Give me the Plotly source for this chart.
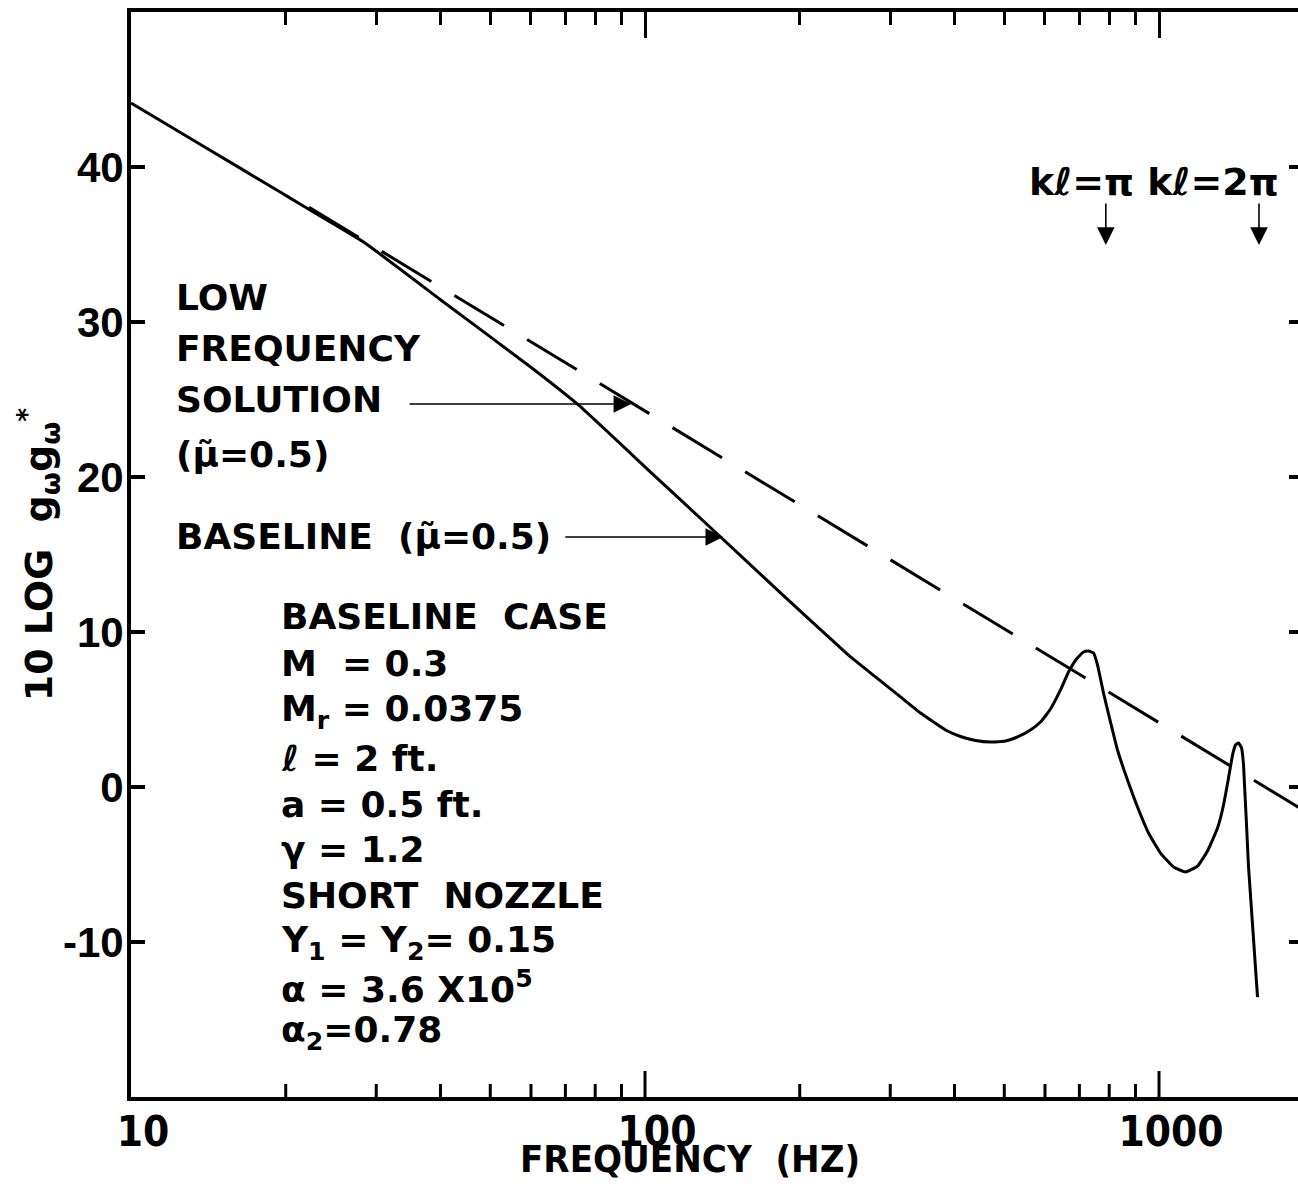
import math
import plotly.graph_objects as go

# Baseline spectrum (mu~ = 0.5): frequency in Hz vs 10 log g_w g_w*
baseline_hz = [10, 13.65, 19.54, 21.4, 28.34, 40.0, 59.9, 74.2, 102.5, 140.3, 183.5,
               240.1, 251.1, 280.8, 314.1, 343.6, 364.2, 384.3, 411.0, 439.6, 470.2,
               502.9, 530.6, 562.3, 588.1, 615.0, 643.2, 666.7, 691.0, 713.1, 729.3,
               745.8, 759.3, 779.9, 804.7, 830.3, 868.4, 908.2, 954.1, 1006.7,
               1067.1, 1126.1, 1188.3, 1242.7, 1299.7, 1335.1, 1365.3, 1390.0,
               1408.8, 1427.9, 1447.3, 1460.3, 1493.4, 1554.8]
baseline_db = [44.13, 41.45, 38.37, 37.58, 35.16, 31.44, 27.10, 24.65, 20.32, 16.13,
               12.52, 8.97, 8.39, 7.10, 5.81, 4.77, 4.19, 3.68, 3.26, 3.00, 2.90,
               2.97, 3.23, 3.68, 4.19, 5.03, 6.26, 7.42, 8.26, 8.71, 8.77, 8.65,
               7.87, 6.06, 4.19, 2.39, 0.45, -1.29, -2.97, -4.26, -5.16, -5.48,
               -5.10, -4.13, -2.65, -1.16, 0.58, 2.06, 2.71, 2.84, 2.52, 1.42,
               -5.16, -13.55]

# Low frequency solution (mu~ = 0.5)
lowfreq_hz = [22.2, 2000]
lowfreq_db = [37.4, -1.9]

x_tick_vals = [10, 100, 1000]
x_tick_text = ["10", "100", "1000"]
x_major_marks = [100, 1000]
x_minor_marks = [20, 30, 40, 50, 60, 70, 80, 90, 200, 300, 400, 500, 600, 700, 800, 900]
y_tick_vals = [-10, 0, 10, 20, 30, 40]
y_tick_text = ["-10", "0", "10", "20", "30", "40"]

X_RANGE = [1, 3.2704]      # log10 of the frequency limits
Y_RANGE = [-20, 50]
PLOT_H = 1186 - 12 - 89    # plot-area height in px
DB_PER_PX = (Y_RANGE[1] - Y_RANGE[0]) / PLOT_H

INK = "black"
TEXT_FONT = dict(family="DejaVu Sans", size=36, color=INK, weight="bold")
NARROW = "DejaVu Sans Condensed, Liberation Sans Narrow, Liberation Sans"

fig = go.Figure()
# The dashed line lives on the overlay axes (x2 on top, y2 on the right) so that
# those frame edges get their own inward tick marks.
fig.add_trace(go.Scatter(x=lowfreq_hz, y=lowfreq_db, mode="lines",
                         xaxis="x2", yaxis="y2",
                         line=dict(color=INK, width=3, dash="58px,27px"),
                         showlegend=False, hoverinfo="skip"))
fig.add_trace(go.Scatter(x=baseline_hz, y=baseline_db, mode="lines",
                         line=dict(color=INK, width=3, shape="spline", smoothing=0.4),
                         showlegend=False, hoverinfo="skip"))

annotations = []


def label(text, f, db, **kw):
    d = dict(text=text, x=math.log10(f), y=db, xref="x", yref="y",
             xanchor="left", yanchor="middle", showarrow=False, font=TEXT_FONT)
    d.update(kw)
    annotations.append(d)


def arrow(f_tail, db_tail, f_head, db_head):
    annotations.append(dict(text="", x=math.log10(f_head), y=db_head,
                            ax=math.log10(f_tail), ay=db_tail,
                            xref="x", yref="y", axref="x", ayref="y",
                            showarrow=True, arrowhead=2, arrowsize=2.2,
                            arrowwidth=1.6, arrowcolor=INK, standoff=0,
                            startstandoff=0))


# Curve identification
label("LOW", 12.1, 31.55)
label("FREQUENCY", 12.1, 28.32)
label("SOLUTION", 12.1, 24.97)
label("(μ̃=0.5)", 12.1, 21.42)
label("BASELINE  (μ̃=0.5)", 12.1, 16.13)
arrow(34.6, 24.71, 94.0, 24.71)
arrow(69.5, 16.13, 141.9, 16.13)

# Parameter block
params = [
    ("BASELINE  CASE", 10.97),
    ("M  = 0.3", 7.94),
    ("M<sub>r</sub> = 0.0375", 4.84),
    ("ℓ = 2 ft.", 1.87),
    ("a = 0.5 ft.", -1.10),
    ("γ = 1.2", -4.06),
    ("SHORT  NOZZLE", -7.03),
    ("Y<sub>1</sub> = Y<sub>2</sub>= 0.15", -10.0),
    ("α = 3.6 X10<sup>5</sup>", -12.9),
    ("α<sub>2</sub>=0.78", -15.87),
]
for txt, db in params:
    label(txt, 19.4, db)

# Resonance markers
label("kℓ=π kℓ=2π", 553, 39.03, font=dict(family="DejaVu Sans", size=38,
                                          color=INK, weight="bold"))
arrow(788, 37.74, 788, 34.97)
arrow(1565, 37.74, 1565, 34.97)

# Axis titles
annotations.append(dict(text="FREQUENCY  (HZ)", x=0.479, y=-0.057, xref="paper",
                        yref="paper", xanchor="center", yanchor="middle",
                        showarrow=False,
                        font=dict(family=NARROW, size=38, color=INK, weight="bold")))
annotations.append(dict(text="10 LOG  g<sub>ω</sub>g<sub>ω</sub><sup>*</sup>",
                        x=-0.079, y=0.50, xref="paper", yref="paper",
                        xanchor="center", yanchor="middle", textangle=-90,
                        showarrow=False, font=dict(family="DejaVu Sans", size=38,
                                                   color=INK, weight="bold")))

# Frequency tick marks on the bottom frame edge (inward pointing)
shapes = []
for vals, length_px in ((x_major_marks, 26), (x_minor_marks, 13)):
    for v in vals:
        px = (math.log10(v) - X_RANGE[0]) / (X_RANGE[1] - X_RANGE[0])
        shapes.append(dict(type="line", xref="paper", yref="y",
                           x0=px, x1=px, y0=Y_RANGE[0],
                           y1=Y_RANGE[0] + length_px * DB_PER_PX,
                           line=dict(color=INK, width=3), layer="above"))

fig.update_layout(
    width=1298, height=1186,
    margin=dict(l=131, r=0, t=12, b=89),
    paper_bgcolor="white", plot_bgcolor="white",
    annotations=annotations, shapes=shapes,
    xaxis=dict(type="log", range=X_RANGE, tickmode="array",
               tickvals=x_tick_vals, ticktext=x_tick_text, ticks="",
               showline=True, linewidth=4, linecolor=INK, mirror=True,
               showgrid=False, zeroline=False, ticklabelshift=12,
               ticklabelstandoff=-5,
               tickfont=dict(family=NARROW, size=42, color=INK, weight="bold")),
    xaxis2=dict(type="log", range=X_RANGE, overlaying="x", side="top",
                anchor="y2", tickmode="array", tickvals=x_major_marks,
                ticks="inside", ticklen=26, tickwidth=3, tickcolor=INK,
                showticklabels=False, showline=False, showgrid=False,
                zeroline=False,
                minor=dict(tickmode="array", tickvals=x_minor_marks,
                           ticks="inside", ticklen=13, tickwidth=3,
                           tickcolor=INK, showgrid=False)),
    yaxis=dict(range=Y_RANGE, tickmode="array", tickvals=y_tick_vals,
               ticktext=y_tick_text, ticks="inside", ticklen=14, tickwidth=4,
               tickcolor=INK, showline=True, linewidth=4, linecolor=INK,
               mirror=False, showgrid=False, zeroline=False,
               tickfont=dict(family="Liberation Sans", size=42, color=INK,
                             weight="bold"), ticklabelstandoff=-5),
    yaxis2=dict(range=Y_RANGE, overlaying="y", side="right", anchor="x2",
                tickmode="array", tickvals=y_tick_vals, ticks="inside",
                ticklen=9, tickwidth=4, tickcolor=INK, showline=False,
                showticklabels=False, showgrid=False, zeroline=False),
)

fig.write_html("out.html")
